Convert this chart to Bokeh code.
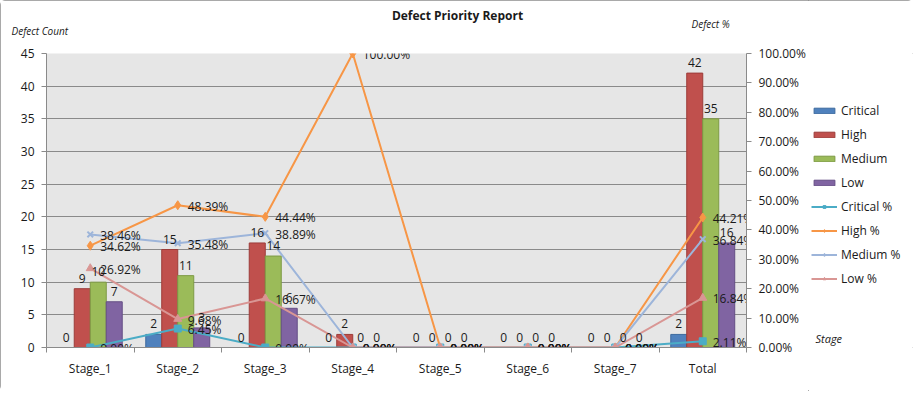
from bokeh.plotting import figure
from bokeh.layouts import row
from bokeh.models import (Range1d, LinearAxis, FixedTicker, PrintfTickFormatter,
                          Legend, LegendItem, Label)
from bokeh.embed import file_html
from bokeh.resources import INLINE
from bokeh.core.properties import value

# ---------------- data ----------------
stages = ["Stage_1", "Stage_2", "Stage_3", "Stage_4", "Stage_5", "Stage_6", "Stage_7", "Total"]
critical = [0, 2, 0, 0, 0, 0, 0, 2]
high = [9, 15, 16, 2, 0, 0, 0, 42]
medium = [10, 11, 14, 0, 0, 0, 0, 35]
low = [7, 3, 6, 0, 0, 0, 0, 16]
critical_pct = [0.00, 6.45, 0.00, 0.00, 0.00, 0.00, 0.00, 2.11]
high_pct = [34.62, 48.39, 44.44, 100.00, 0.00, 0.00, 0.00, 44.21]
medium_pct = [38.46, 35.48, 38.89, 0.00, 0.00, 0.00, 0.00, 36.84]
low_pct = [26.92, 9.68, 16.67, 0.00, 0.00, 0.00, 0.00, 16.84]
count_ticks = [0, 5, 10, 15, 20, 25, 30, 35, 40, 45]
pct_ticks = [0, 10, 20, 30, 40, 50, 60, 70, 80, 90, 100]

FONT = "Open Sans"
TXT = "#1a1a1a"
GRID = "#8a8a8a"

n = len(stages)
centers = [i + 0.5 for i in range(n)]

p = figure(frame_width=700, frame_height=294,
           x_range=Range1d(0, n), y_range=Range1d(0, 45),
           output_backend="svg", toolbar_location=None,
           min_border_left=46, min_border_right=62,
           min_border_top=53, min_border_bottom=44,
           background_fill_color="#e6e6e6", border_fill_color="white",
           outline_line_color=None)
p.extra_y_ranges = {"pct": Range1d(0, 100)}

# axes
p.xaxis.ticker = FixedTicker(ticks=centers, minor_ticks=list(range(n + 1)))
p.xaxis.major_label_overrides = {c: s for c, s in zip(centers, stages)}
p.xaxis.major_tick_out = 0
p.xaxis.major_tick_in = 0
p.xaxis.minor_tick_out = 5
p.xaxis.minor_tick_in = 0
p.xaxis.minor_tick_line_color = GRID
p.xaxis.major_label_standoff = 7
p.xaxis.axis_line_color = GRID

p.yaxis.ticker = FixedTicker(ticks=count_ticks)
p.yaxis.major_tick_out = 5
p.yaxis.major_tick_in = 0
p.yaxis.minor_tick_line_color = None
p.yaxis.major_label_standoff = 7
p.yaxis.axis_line_color = GRID
p.yaxis.major_tick_line_color = GRID

right = LinearAxis(y_range_name="pct", ticker=FixedTicker(ticks=pct_ticks),
                   formatter=PrintfTickFormatter(format="%.2f%%"))
right.major_tick_out = 5
right.major_tick_in = 0
right.minor_tick_line_color = None
right.major_label_standoff = 7
right.axis_line_color = GRID
right.major_tick_line_color = GRID
p.add_layout(right, "right")

for ax in [p.xaxis[0], p.yaxis[0], right]:
    ax.major_label_text_font = FONT
    ax.major_label_text_font_size = "12px"
    ax.major_label_text_color = TXT

p.xgrid.grid_line_color = None
p.ygrid.grid_line_color = GRID
p.ygrid.grid_line_width = 1

# legend panel (separate figure to the right; its view range shows no data,
# so its renderers only serve as legend keys)
pl = figure(width=105, height=391, x_range=Range1d(-2, -1), y_range=Range1d(0, 45),
            output_backend="svg", toolbar_location=None,
            x_axis_location=None, y_axis_location=None,
            min_border_left=0, min_border_right=0, min_border_top=0, min_border_bottom=0,
            background_fill_color="white", border_fill_color="white",
            outline_line_color=None)
pl.grid.visible = False
pl.extra_y_ranges = {"pct": Range1d(0, 100)}

# bars
bar_w = 0.183
offsets = [-0.274, -0.0914, 0.0914, 0.274]
bar_series = [("Critical", critical, "#4f81bd", "#3d6a9e"),
              ("High", high, "#c0504d", "#9c3c39"),
              ("Medium", medium, "#9bbb59", "#7d9a44"),
              ("Low", low, "#8064a2", "#654e85")]
items = []
for (name, vals, col, lc), off in zip(bar_series, offsets):
    xs = [c + off for c in centers]
    p.vbar(x=xs, top=vals, width=bar_w, fill_color=col, line_color=lc, line_width=1)
    key = pl.vbar(x=xs, top=vals, width=bar_w, fill_color=col, line_color=lc, line_width=1)
    items.append(LegendItem(label=name, renderers=[key]))

# percentage lines
line_series = [("Critical %", critical_pct, "#4bacc6", "square", 7),
               ("High %", high_pct, "#f79646", "diamond", 9),
               ("Medium %", medium_pct, "#9db5da", "x", 8),
               ("Low %", low_pct, "#d99694", "triangle", 8)]
for name, vals, col, mk, sz in line_series:
    p.line(x=centers, y=vals, y_range_name="pct", line_color=col, line_width=2)
    p.scatter(x=centers, y=vals, y_range_name="pct", marker=mk, size=sz,
              fill_color=col, line_color=col, line_width=2 if mk == "x" else 1)
    kl = pl.line(x=centers, y=vals, y_range_name="pct", line_color=col, line_width=2)
    ks = pl.scatter(x=centers, y=vals, y_range_name="pct", marker=mk, size=sz,
                    fill_color=col, line_color=col, line_width=2 if mk == "x" else 1)
    items.append(LegendItem(label=name, renderers=[kl, ks]))

# bar labels
for (name, vals, col, lc), off in zip(bar_series, offsets):
    xs = [c + off for c in centers]
    p.text(x=xs, y=vals, text=[str(v) for v in vals], text_align="center",
           text_baseline="bottom", y_offset=-6, text_font=value(FONT),
           text_font_size="12px", text_color=TXT)

# percentage labels
for name, vals, col, mk, sz in line_series:
    p.text(x=centers, y=vals, text=["%.2f%%" % v for v in vals], y_range_name="pct",
           text_align="left", text_baseline="middle", x_offset=10, y_offset=1,
           text_font=value(FONT), text_font_size="12px", text_color=TXT)

legend = Legend(items=items, location=(3, 60), padding=0, margin=0,
                spacing=7, glyph_width=26, glyph_height=7, label_height=14,
                label_standoff=4, label_text_font=FONT,
                label_text_font_size="12px", label_text_color=TXT,
                border_line_color=None, background_fill_alpha=0)
pl.add_layout(legend, "center")

def lab(fig, text, x, y, side, style="normal", size="12px", align="left"):
    fig.add_layout(Label(x=x, y=y, x_units="screen", y_units="screen", text=text,
                         text_align=align, text_baseline="middle", text_font=FONT,
                         text_font_size=size, text_font_style=style, text_color=TXT), side)

lab(p, "Defect Priority Report", 411, 38, "above", style="bold", size="12px", align="center")
lab(p, "Defect Count", -35, 6, "above", style="italic", size="10px")
lab(p, "Defect %", 645, -1, "above", style="italic", size="10px")
lab(pl, "Stage", 7, 9, "center", style="italic", size="11px")

layout = row(p, pl, spacing=0)
layout.styles = {"outline": "1px solid #8c8c8c", "outline-offset": "-1px", "border-radius": "5px"}

open("out.html", "w").write(file_html(layout, INLINE))
